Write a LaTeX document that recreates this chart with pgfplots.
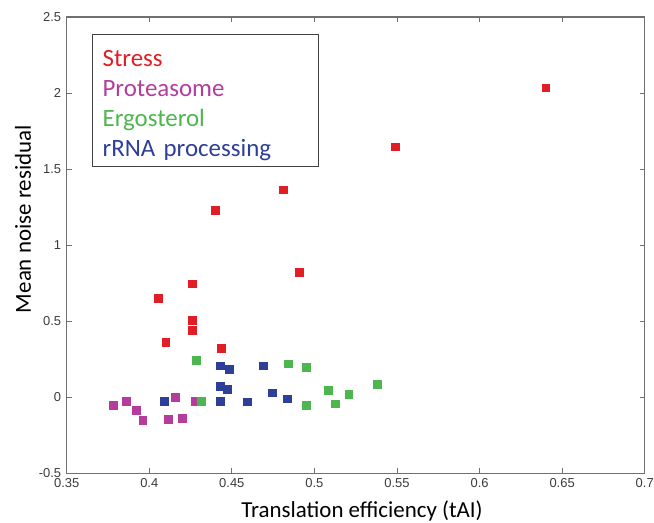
\documentclass[border=0pt]{standalone}
\usepackage{pgfplots}
\pgfplotsset{compat=1.18}
\usepackage{fontspec}
\setmainfont{Carlito}
\newfontfamily\arial{Liberation Sans}
\definecolor{StressRed}{HTML}{E11D25}
\definecolor{ProtMag}{HTML}{B43C9C}
\definecolor{ErgGreen}{HTML}{4DB64E}
\definecolor{RnaBlue}{HTML}{2D3F98}
\definecolor{AxGray}{HTML}{707070}
\definecolor{TickTxt}{HTML}{3A3A3A}

\begin{document}
\begin{tikzpicture}
  \begin{axis}[
    scale only axis,
    width=578bp,
    height=456.3bp,
    xmin=0.35, xmax=0.7,
    ymin=-0.5, ymax=2.5,
    xtick={0.35,0.4,0.45,0.5,0.55,0.6,0.65,0.7},
    ytick={-0.5,0,0.5,1,1.5,2,2.5},
    tick align=inside,
    xtick pos=both, ytick pos=both,
    major tick length=5bp,
    every tick/.style={AxGray, line width=0.8bp},
    axis line style={AxGray, line width=1.1bp},
    tick label style={font=\arial\fontsize{13}{13}\selectfont, text=TickTxt},
    xticklabel style={yshift=-2bp},
    yticklabel style={xshift=-2bp},
    /pgf/number format/fixed,
    /pgf/number format/precision=2,
    /pgf/number format/assume math mode=true,
    xlabel={Translation efficiency (tAI)},
    ylabel={Mean noise residual},
    xlabel style={font=\fontsize{23}{23}\selectfont, at={(axis description cs:0.511,-0.0958)}, anchor=base},
    ylabel style={font=\fontsize{23}{23}\selectfont, at={(axis description cs:-0.0618,0.557)}, anchor=base},
    mark size=3.9bp,
    only marks,
  ]
    % Stress
    \addplot[mark=square*, color=StressRed] coordinates {
      (0.640,2.035) (0.549,1.647) (0.481,1.364) (0.440,1.232) (0.491,0.824)
      (0.426,0.747) (0.4055,0.649) (0.426,0.509) (0.426,0.441) (0.410,0.362)
      (0.4435,0.324)
    };
    % Proteasome
    \addplot[mark=square*, color=ProtMag] coordinates {
      (0.378,-0.051) (0.386,-0.024) (0.392,-0.084) (0.396,-0.151) (0.4156,0.0)
      (0.4116,-0.145) (0.4197,-0.136) (0.428,-0.024)
    };
    % Ergosterol
    \addplot[mark=square*, color=ErgGreen] coordinates {
      (0.4284,0.241) (0.4839,0.221) (0.495,0.197) (0.5084,0.048) (0.5379,0.0875)
      (0.5207,0.020) (0.5126,-0.042) (0.4948,-0.053) (0.4314,-0.024)
    };
    % rRNA processing
    \addplot[mark=square*, color=RnaBlue] coordinates {
      (0.4088,-0.026) (0.4429,-0.026) (0.4595,-0.029) (0.4833,-0.009) (0.4742,0.030)
      (0.4429,0.074) (0.4470,0.055) (0.4429,0.208) (0.4484,0.186) (0.4692,0.208)
    };
    \node[draw=black!75, line width=1.2bp, anchor=north west, inner xsep=10bp, inner ysep=4bp,
          minimum width=226bp, minimum height=132bp, text width=206bp, align=left,
          font=\fontsize{25}{30.3}\selectfont]
      at (rel axis cs:0.0438,0.9627) {%
      \rule{0pt}{26bp}\textcolor{StressRed}{Stress}\\
      \textcolor{ProtMag}{Proteasome}\\
      \textcolor{ErgGreen}{Ergosterol}\\
      \textcolor{RnaBlue}{rRNA processing}};
  \end{axis}
  \pgfresetboundingbox
  \path (current axis.south west) ++(-66.7bp,-49.7bp) rectangle ++(654bp,523bp);
\end{tikzpicture}
\end{document}
